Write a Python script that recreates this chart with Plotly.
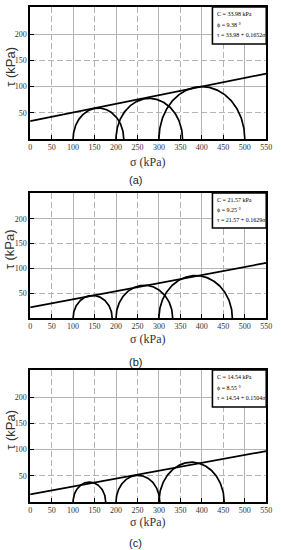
import numpy as np
import plotly.graph_objects as go

# ---- data ----
panel_labels = ["(a)", "(b)", "(c)"]
cohesion = [33.98, 21.57, 14.54]          # kPa
friction_deg = [9.38, 9.25, 8.55]          # degrees
slope = [0.1652, 0.1629, 0.1504]           # tan(phi) as printed
sigma3 = [[100, 200, 300], [100, 200, 300], [100, 200, 300]]
sigma1 = [[218, 355, 500], [191, 332, 471], [176, 302, 452]]
x_ticks = [0, 50, 100, 150, 200, 250, 300, 350, 400, 450, 500, 550]
y_ticks = [50, 100, 150, 200]
x_range = [0, 550]
y_range = [0, 252]

# ---- layout geometry (pixels of the 281x550 page) ----
W, H = 281, 550
x_dom = [29 / W, 272 / W]
panel_px = [(7, 139), (193, 318), (370, 502)]
xtitle_px = [162, 339, 522]
plabel_px = [180, 362, 543]

serif = "Liberation Serif, DejaVu Serif, serif"
sans = "Liberation Sans, DejaVu Sans, sans-serif"


def sfx(n):
    return "" if n == 1 else str(n)


fig = go.Figure()
layout = dict(
    width=W, height=H, margin=dict(l=0, r=0, t=0, b=0),
    paper_bgcolor="white", plot_bgcolor="white", showlegend=False,
    annotations=[], shapes=[],
)

grid_col = "#b4b4b4"
theta = np.linspace(0, np.pi, 181)

for i in range(3):
    k = sfx(i + 1)      # main axes
    g = sfx(i + 4)      # overlay axes for solid grid lines
    top, bot = panel_px[i]
    y_dom = [1 - bot / H, 1 - top / H]

    layout[f"xaxis{k}"] = dict(
        domain=x_dom, range=x_range, anchor=f"y{k}",
        tickvals=x_ticks, ticks="inside", ticklen=4, tickwidth=1, tickcolor="black",
        showline=True, linewidth=1.6, linecolor="black", mirror=True,
        showgrid=True, gridcolor=grid_col, griddash="6px,3px", gridwidth=1,
        zeroline=False, tickfont=dict(family=serif, size=8, color="#333"),
        ticklabeloverflow="allow",
    )
    layout[f"yaxis{k}"] = dict(
        domain=y_dom, range=y_range, anchor=f"x{k}",
        tickvals=y_ticks, ticks="inside", ticklen=4, tickwidth=1, tickcolor="black",
        showline=True, linewidth=1.6, linecolor="black", mirror=True,
        showgrid=True, gridcolor=grid_col, griddash="6px,3px", gridwidth=1,
        zeroline=False, tickfont=dict(family=serif, size=8, color="#333"),
    )
    layout[f"xaxis{g}"] = dict(
        domain=x_dom, range=x_range, anchor=f"y{g}", overlaying=f"x{k}",
        dtick=100, tick0=0, showticklabels=False, ticks="",
        showgrid=True, gridcolor=grid_col, gridwidth=1, zeroline=False, showline=False,
    )
    layout[f"yaxis{g}"] = dict(
        domain=y_dom, range=y_range, anchor=f"x{g}", overlaying=f"y{k}",
        dtick=100, tick0=0, showticklabels=False, ticks="",
        showgrid=True, gridcolor=grid_col, gridwidth=1, zeroline=False, showline=False,
    )
    # invisible trace to register overlay subplot
    fig.add_trace(go.Scatter(x=[None], y=[None], xaxis=f"x{g}", yaxis=f"y{g}",
                             hoverinfo="skip"))

    # Mohr circles
    for s3, s1 in zip(sigma3[i], sigma1[i]):
        c = (s1 + s3) / 2
        r = (s1 - s3) / 2
        fig.add_trace(go.Scatter(
            x=c + r * np.cos(theta), y=r * np.sin(theta), mode="lines",
            line=dict(color="black", width=1.7), xaxis=f"x{k}", yaxis=f"y{k}",
            hoverinfo="skip"))

    # failure envelope
    xs = np.array(x_range, dtype=float)
    fig.add_trace(go.Scatter(
        x=xs, y=cohesion[i] + slope[i] * xs, mode="lines",
        line=dict(color="black", width=1.7), xaxis=f"x{k}", yaxis=f"y{k}",
        hoverinfo="skip"))

    # info box (frame + three text lines)
    layout["shapes"].append(dict(
        type="rect", xref=f"x{k} domain", yref=f"y{k} domain",
        x0=0.772, x1=1.0, y0=0.72, y1=1.0,
        line=dict(color="black", width=1.6), fillcolor="white", layer="above"))
    box_lines = [f"C = {cohesion[i]:.2f} kPa",
                 f"ϕ = {friction_deg[i]:.2f} °",
                 f"τ = {cohesion[i]:.2f} + {slope[i]:.4f}<i>σ</i>"]
    for line_text, yy in zip(box_lines, [0.945, 0.865, 0.785]):
        layout["annotations"].append(dict(
            xref=f"x{k} domain", yref=f"y{k} domain", x=0.781, y=yy,
            xanchor="left", yanchor="middle", showarrow=False,
            text=line_text, font=dict(family=serif, size=6, color="black")))

    # axis titles
    layout["annotations"].append(dict(
        xref="paper", yref="paper", x=150 / W, y=1 - xtitle_px[i] / H,
        xanchor="center", yanchor="middle", showarrow=False,
        text="σ (kPa)", font=dict(family=serif, size=12, color="#333")))
    layout["annotations"].append(dict(
        xref="paper", yref="paper", x=8 / W, y=1 - ((top + bot) / 2 - 6) / H,
        xanchor="center", yanchor="middle", showarrow=False, textangle=-90,
        text="τ (kPa)", font=dict(family=sans, size=13, color="#333")))
    layout["annotations"].append(dict(
        xref="paper", yref="paper", x=137 / W, y=1 - plabel_px[i] / H,
        xanchor="center", yanchor="middle", showarrow=False,
        text=panel_labels[i], font=dict(family=sans, size=11, color="#222")))

fig.update_layout(**layout)
fig.write_html("out.html", config={"displayModeBar": False},
               post_script="document.body.style.margin='0px';")
